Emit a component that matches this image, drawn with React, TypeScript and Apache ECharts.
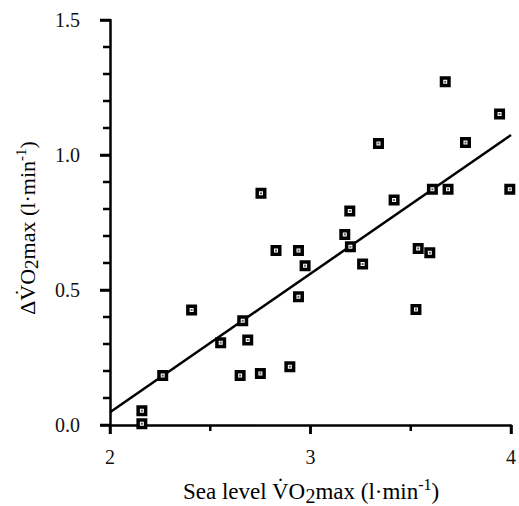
import React, { useEffect, useRef } from "react";
import * as echarts from "echarts";

// Sea level VO2max (l·min-1) vs ΔVO2max (l·min-1)
const seaLevelVO2 = [
  2.159, 2.159, 2.263, 2.407, 2.552, 2.662, 2.687, 2.649, 2.75, 2.897,
  2.753, 2.828, 2.94, 2.973, 2.94, 3.171, 3.196, 3.199, 3.26, 3.339,
  3.417, 3.537, 3.595, 3.526, 3.608, 3.686, 3.672, 3.773, 3.943, 3.994,
];
const deltaVO2 = [
  0.053, 0.005, 0.183, 0.426, 0.305, 0.386, 0.315, 0.183, 0.191, 0.216,
  0.858, 0.646, 0.646, 0.59, 0.475, 0.706, 0.793, 0.66, 0.596, 1.043,
  0.833, 0.654, 0.638, 0.428, 0.873, 0.873, 1.271, 1.046, 1.152, 0.873,
];
// regression line end points
const fitX = [2, 4];
const fitY = [0.047, 1.074];

const xTicks = { min: 2, max: 4, interval: 1 };
const yTicks = { min: 0, max: 1.5, interval: 0.5 };
const xMajorTicks = [2, 3, 4];
const xMinorTicks = [2.5, 3.5];
const yMajorTicks = [0, 0.5, 1.0, 1.5];
const yMinorTicks = [0.1, 0.2, 0.3, 0.4, 0.6, 0.7, 0.8, 0.9, 1.1, 1.2, 1.3, 1.4];

const FONT = "'Liberation Serif', 'DejaVu Serif', 'Times New Roman', serif";

function makeRich(size: number) {
  return {
    n: { fontFamily: FONT, fontSize: size, lineHeight: size + 6, color: "#111", verticalAlign: "middle" },
    sub: { fontFamily: FONT, fontSize: size - 3, lineHeight: size - 4, color: "#111", verticalAlign: "bottom" },
    sup: { fontFamily: FONT, fontSize: size - 7, lineHeight: size - 7, color: "#111", verticalAlign: "top" },
  };
}

const axisLineStyle = { color: "#000", width: 2.5 };

function tickSeries(values: number[], axis: "x" | "y", len: number) {
  return {
    type: "custom",
    coordinateSystem: "cartesian2d",
    clip: false,
    silent: true,
    z: 5,
    data: values.map((v) => (axis === "y" ? [xTicks.min, v] : [v, yTicks.min])),
    renderItem: (_params: any, api: any) => {
      const p = api.coord([api.value(0), api.value(1)]);
      if (axis === "y") {
        return {
          type: "line",
          shape: { x1: p[0] - len, y1: p[1], x2: p[0], y2: p[1] },
          style: { stroke: "#000", lineWidth: 2.5 },
        };
      }
      return {
        type: "line",
        shape: { x1: p[0], y1: p[1], x2: p[0], y2: p[1] + len },
        style: { stroke: "#000", lineWidth: 2.5 },
      };
    },
  };
}

export default function App() {
  const ref = useRef<HTMLDivElement>(null);
  useEffect(() => {
    if (!ref.current) return;
    const chart = echarts.init(ref.current, null, { renderer: "svg" });
    const points = seaLevelVO2.map((x, i) => [x, deltaVO2[i]]);
    const fit = fitX.map((x, i) => [x, fitY[i]]);
    chart.setOption({
      animation: false,
      backgroundColor: "#fff",
      grid: { left: 110, right: 5.5, top: 20, bottom: 81 },
      xAxis: {
        type: "value",
        min: xTicks.min,
        max: xTicks.max,
        interval: xTicks.interval,
        axisLine: { show: true, onZero: false, lineStyle: axisLineStyle },
        axisTick: { show: true, inside: false, length: 9, lineStyle: axisLineStyle },
        splitLine: { show: false },
        axisLabel: { margin: 22, fontFamily: FONT, fontSize: 20, color: "#111" },
      },
      yAxis: {
        type: "value",
        min: yTicks.min,
        max: yTicks.max,
        interval: yTicks.interval,
        axisLine: { show: true, onZero: false, lineStyle: axisLineStyle },
        axisTick: { show: true, inside: false, length: 10, lineStyle: axisLineStyle },
        splitLine: { show: false },
        axisLabel: {
          margin: 30,
          fontFamily: FONT,
          fontSize: 20,
          color: "#111",
          formatter: (v: number) => v.toFixed(1),
        },
      },
      graphic: [
        {
          type: "text",
          x: 27,
          y: 228,
          rotation: Math.PI / 2,
          style: {
            text: "{n|\u0394V\u0307O}{sub|2}{n|max (l\u00b7min}{sup|-1}{n|)}",
            rich: makeRich(22),
            align: "center",
            verticalAlign: "middle",
          },
        },
        {
          type: "text",
          x: 311,
          y: 491,
          style: {
            text: "{n|Sea level V\u0307O}{sub|2}{n|max (l\u00b7min}{sup|-1}{n|)}",
            rich: makeRich(23),
            align: "center",
            verticalAlign: "middle",
          },
        },
      ],
      series: [
        tickSeries(xMajorTicks, "x", 9),
        tickSeries(xMinorTicks, "x", 6),
        tickSeries(yMajorTicks, "y", 10),
        tickSeries(yMinorTicks, "y", 7),
        {
          type: "line",
          data: fit,
          showSymbol: false,
          symbol: "none",
          lineStyle: { color: "#000", width: 2.5 },
          z: 2,
        },
        {
          type: "scatter",
          data: points,
          symbol: "rect",
          symbolSize: 7.5,
          itemStyle: { color: "#fff", borderColor: "#000", borderWidth: 3.5, opacity: 1 },
          z: 3,
        },
        {
          type: "scatter",
          data: points,
          symbol: "rect",
          symbolSize: 2,
          itemStyle: { color: "#333" },
          z: 4,
          silent: true,
        },
      ],
    });
    return () => chart.dispose();
  }, []);
  return (
    <div
      ref={ref}
      style={{ position: "fixed", left: 0, top: 0, width: 519, height: 506 }}
    />
  );
}
